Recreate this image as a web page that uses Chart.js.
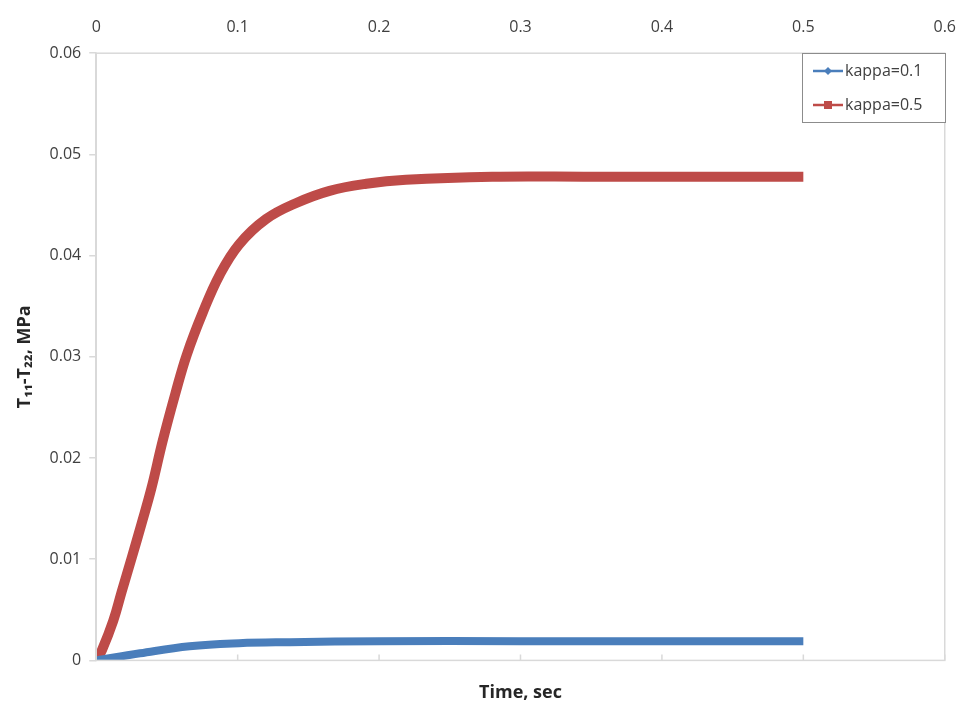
<!DOCTYPE html>
<html>
<head>
<meta charset="utf-8">
<script src="https://cdn.jsdelivr.net/npm/chart.js@4/dist/chart.umd.min.js"></script>
<style>
  html, body { margin: 0; padding: 0; background: #fff; }
  #wrap { width: 964px; height: 708px; }
</style>
</head>
<body>
<div id="wrap"><canvas id="myChart"></canvas></div>
<script>
// values
const timeRed = [0, 0.004, 0.012, 0.018, 0.025, 0.032, 0.039, 0.047, 0.056, 0.064, 0.0754, 0.0873, 0.101, 0.12, 0.1415, 0.165, 0.191, 0.219, 0.28, 0.35, 0.42, 0.5];
const kappa05 = [0, 0.0010, 0.0039, 0.0068, 0.0101, 0.0135, 0.0170, 0.0217, 0.0264, 0.0302, 0.0344, 0.0381, 0.0411, 0.0436, 0.0452, 0.0464, 0.0471, 0.0475, 0.0478, 0.0478, 0.0478, 0.0478];
const timeBlue = [0, 0.031, 0.066, 0.101, 0.137, 0.2, 0.3, 0.4, 0.5];
const kappa01 = [0, 0.0007, 0.0014, 0.0017, 0.0018, 0.0019, 0.0019, 0.0019, 0.0019];
const xTicks = [0, 0.1, 0.2, 0.3, 0.4, 0.5, 0.6];
const yTicks = [0, 0.01, 0.02, 0.03, 0.04, 0.05, 0.06];

function toPoints(xs, ys) {
  return xs.map(function (x, i) { return { x: x, y: ys[i] }; });
}

const textColor = "#404040";
const fontFam = "'Open Sans', 'Liberation Sans', sans-serif";

// frame round the plot + small inside ticks on the bottom edge, legend box top right
const framePlugin = {
  id: "frame",
  afterDraw: function (chart) {
    const ctx = chart.ctx;
    const a = chart.chartArea;
    ctx.save();
    ctx.strokeStyle = "#d9d9d9";
    ctx.lineWidth = 1.5;
    ctx.strokeRect(a.left, a.top, a.right - a.left, a.bottom - a.top);
    const xs = chart.scales.x;
    ctx.beginPath();
    xTicks.forEach(function (v) {
      const px = xs.getPixelForValue(v);
      ctx.moveTo(px, a.bottom);
      ctx.lineTo(px, a.bottom - 6);
    });
    ctx.stroke();

    // legend
    const bx = 802, by = 53, bw = 143, bh = 69;
    ctx.fillStyle = "#fff";
    ctx.fillRect(bx, by, bw, bh);
    ctx.strokeStyle = "#8c8c8c";
    ctx.lineWidth = 1;
    ctx.strokeRect(bx + 0.5, by + 0.5, bw, bh);
    ctx.font = "16px " + fontFam;
    ctx.textBaseline = "middle";
    chart.data.datasets.forEach(function (ds, i) {
      const cy = by + 18 + i * 34;
      ctx.strokeStyle = ds.borderColor;
      ctx.lineWidth = 2.5;
      ctx.beginPath();
      ctx.moveTo(813, cy);
      ctx.lineTo(843, cy);
      ctx.stroke();
      ctx.fillStyle = ds.borderColor;
      if (i === 0) {
        ctx.beginPath();
        ctx.moveTo(828, cy - 4);
        ctx.lineTo(832, cy);
        ctx.lineTo(828, cy + 4);
        ctx.lineTo(824, cy);
        ctx.closePath();
        ctx.fill();
      } else {
        ctx.fillRect(824, cy - 4, 8, 8);
      }
      ctx.fillStyle = textColor;
      ctx.fillText(ds.label, 845, cy);
    });
    ctx.restore();
  }
};

const ctx = document.getElementById("myChart").getContext("2d");
const myChart = new Chart(ctx, {
  type: "line",
  data: {
    datasets: [
      {
        label: "kappa=0.1",
        data: toPoints(timeBlue, kappa01),
        borderColor: "#4a7ebb",
        backgroundColor: "#4a7ebb",
        borderWidth: 8,
        pointRadius: 0,
        tension: 0.4,
        xAxisID: "x",
      },
      {
        label: "kappa=0.5",
        data: toPoints(timeRed, kappa05),
        borderColor: "#be4b48",
        backgroundColor: "#be4b48",
        borderWidth: 10,
        pointRadius: 0,
        tension: 0.4,
        xAxisID: "x",
      },
    ],
  },
  options: {
    responsive: true,
    maintainAspectRatio: false,
    animation: false,
    layout: { padding: { left: 14, right: 17, top: 10, bottom: 4 } },
    plugins: {
      legend: { display: false },
      tooltip: { enabled: false },
    },
    scales: {
      x: {
        type: "linear",
        position: "top",
        min: 0,
        max: 0.6,
        afterBuildTicks: function (s) { s.ticks = xTicks.map(function (v) { return { value: v }; }); },
        grid: { display: false },
        border: { display: false },
        ticks: { color: textColor, font: { size: 16, family: fontFam }, padding: 8, maxRotation: 0 },
      },
      x2: {
        type: "linear",
        position: "bottom",
        min: 0,
        max: 0.6,
        grid: { display: false },
        border: { display: false },
        ticks: { display: false },
        title: {
          display: true,
          text: "Time, sec",
          color: "#262626",
          font: { size: 18, weight: "bold", family: fontFam },
          padding: { top: 14, bottom: 0 },
        },
      },
      y: {
        min: 0,
        max: 0.06,
        afterBuildTicks: function (s) { s.ticks = yTicks.map(function (v) { return { value: v }; }); },
        grid: { drawOnChartArea: false, color: "#d9d9d9", tickLength: 7, lineWidth: 1.5 },
        border: { color: "#d9d9d9", width: 1.5 },
        ticks: { color: textColor, font: { size: 16, family: fontFam }, padding: 8 },
        title: {
          display: true,
          text: "T\u2081\u2081-T\u2082\u2082, MPa",
          color: "#262626",
          font: { size: 18, weight: "bold", family: fontFam },
          padding: { top: 0, bottom: 6 },
        },
      },
    },
  },
  plugins: [framePlugin],
});
</script>
</body>
</html>
